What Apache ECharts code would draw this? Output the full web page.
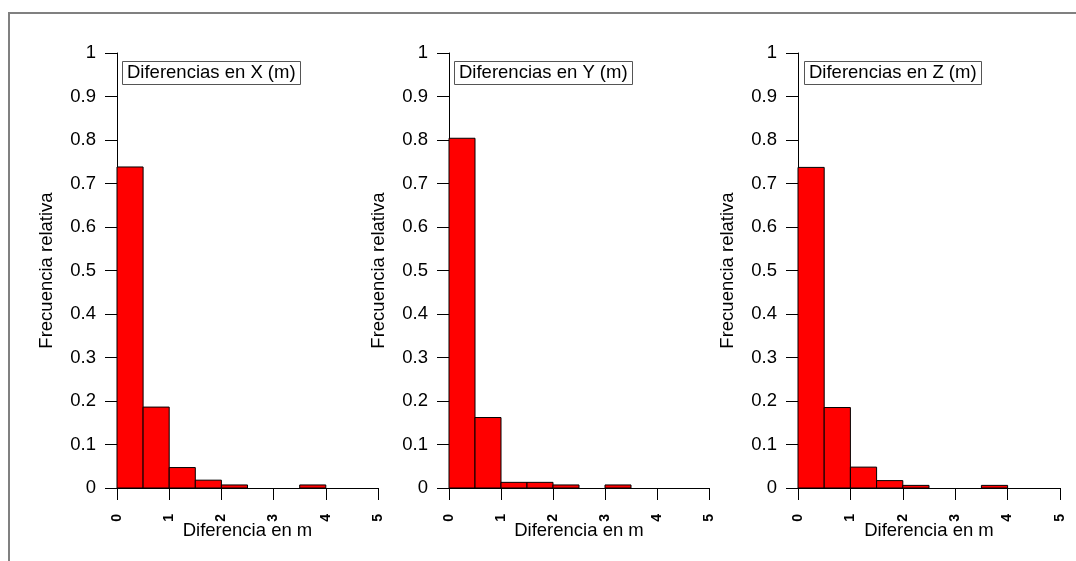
<!DOCTYPE html>
<html>
<head>
<meta charset="utf-8">
<script src="https://cdn.jsdelivr.net/npm/echarts@6/dist/echarts.min.js"></script>
<style>
  html, body { margin: 0; padding: 0; background: #fff; }
  #chart { width: 1076px; height: 561px; }
</style>
</head>
<body>
<div id="chart"></div>
<script>
// histogram bins: 0 - 5 m, 0.5 m wide
const binEdges = [0, 0.5, 1, 1.5, 2, 2.5, 3, 3.5, 4, 4.5, 5]
const freqX = [0.738, 0.186, 0.047, 0.018, 0.007, 0, 0, 0.007, 0, 0]
const freqY = [0.804, 0.162, 0.013, 0.013, 0.007, 0, 0.007, 0, 0, 0]
const freqZ = [0.737, 0.185, 0.048, 0.017, 0.006, 0, 0, 0.006, 0, 0]
const xTicks = [0, 1, 2, 3, 4, 5]
const yTicks = [0, 0.1, 0.2, 0.3, 0.4, 0.5, 0.6, 0.7, 0.8, 0.9, 1]
const panelTitles = ['Diferencias en X (m)', 'Diferencias en Y (m)', 'Diferencias en Z (m)']
const xName = 'Diferencia en m'
const yName = 'Frecuencia relativa'

const FONT = "'Liberation Sans', Arial, sans-serif"
const panels = [
  { left: 117, width: 261, freq: freqX, boxLeft: 122 },
  { left: 449, width: 260, freq: freqY, boxLeft: 454 },
  { left: 798, width: 262, freq: freqZ, boxLeft: 804 }
]

function binData(freq) {
  var data = []
  freq.forEach(function (f, i) {
    if (f > 0) data.push([binEdges[i], binEdges[i + 1], f])
  })
  return data
}

var chart = echarts.init(document.getElementById('chart'), null, { renderer: 'canvas' })

var grid = [], xAxis = [], yAxis = [], series = [], title = []
panels.forEach(function (p, i) {
  grid.push({ left: p.left, top: 53, width: p.width, height: 435 })
  xAxis.push({
    gridIndex: i,
    type: 'value',
    min: xTicks[0],
    max: xTicks[xTicks.length - 1],
    interval: 1,
    name: xName,
    nameLocation: 'middle',
    nameGap: 33,
    nameMoveOverlap: false,
    nameTextStyle: { fontSize: 18.5, color: '#000', fontFamily: FONT },
    axisLine: { show: true, lineStyle: { color: '#000', width: 1 } },
    axisTick: { show: true, length: 12, lineStyle: { color: '#000' } },
    axisLabel: { rotate: 90, margin: 26, fontSize: 14, fontWeight: 'bold', color: '#000', fontFamily: FONT },
    splitLine: { show: false }
  })
  yAxis.push({
    gridIndex: i,
    type: 'value',
    min: yTicks[0],
    max: yTicks[yTicks.length - 1],
    interval: 0.1,
    name: yName,
    nameLocation: 'middle',
    nameGap: 61,
    nameMoveOverlap: false,
    nameTextStyle: { fontSize: 18.5, color: '#000', fontFamily: FONT },
    axisLine: { show: true, lineStyle: { color: '#000', width: 1 } },
    axisTick: { show: true, length: 12, lineStyle: { color: '#000' } },
    axisLabel: {
      margin: 21, fontSize: 18.5, color: '#000', fontFamily: FONT,
      formatter: function (v) { return String(+v.toFixed(1)) }
    },
    splitLine: { show: false }
  })
  title.push({
    text: panelTitles[i],
    left: p.boxLeft,
    top: 61,
    padding: [2, 5, 2, 5],
    borderWidth: 1,
    borderColor: '#555',
    textStyle: { fontSize: 18.5, fontWeight: 'normal', color: '#000', fontFamily: FONT, lineHeight: 20 }
  })
  series.push({
    type: 'custom',
    xAxisIndex: i,
    yAxisIndex: i,
    data: binData(p.freq),
    encode: { x: [0, 1], y: 2 },
    renderItem: function (params, api) {
      var p0 = api.coord([api.value(0), api.value(2)])
      var p1 = api.coord([api.value(1), 0])
      return {
        type: 'rect',
        shape: { x: p0[0], y: p0[1], width: p1[0] - p0[0], height: p1[1] - p0[1] },
        style: { fill: '#ff0000', stroke: '#000', lineWidth: 1 }
      }
    }
  })
})

chart.setOption({
  animation: false,
  backgroundColor: '#fff',
  title: title,
  grid: grid,
  xAxis: xAxis,
  yAxis: yAxis,
  series: series,
  graphic: [{
    type: 'rect',
    silent: true,
    shape: { x: 9, y: 13, width: 1080, height: 600 },
    style: { fill: 'none', stroke: '#808080', lineWidth: 2 }
  }]
})
</script>
</body>
</html>
